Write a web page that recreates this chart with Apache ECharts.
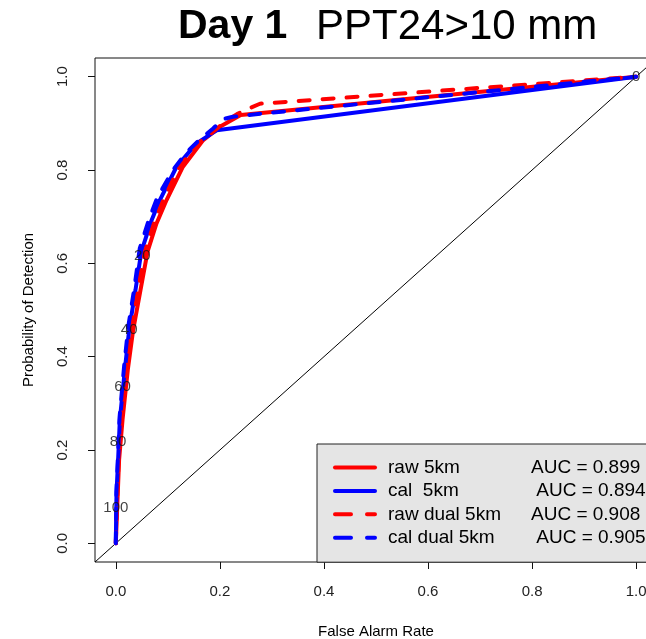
<!DOCTYPE html>
<html>
<head>
<meta charset="utf-8">
<title>Day 1 PPT24>10 mm</title>
<script src="https://cdn.jsdelivr.net/npm/echarts@6/dist/echarts.min.js"></script>
<style>
    html, body { margin: 0; padding: 0; background: #fff; }
    #chart { width: 646px; height: 639px; }
</style>
</head>
<body>
<div id="chart"></div>
<script>
    // 曲线数据 [误报率, 命中率]
    var raw5km = [[0, 0], [0.0025, 0.072], [0.0063, 0.179], [0.0129, 0.2645], [0.023, 0.3715], [0.0333, 0.457],
        [0.0475, 0.543], [0.061, 0.625], [0.078, 0.685], [0.0975, 0.7356], [0.129, 0.807], [0.168, 0.864],
        [0.2, 0.8925], [0.24, 0.918], [1, 1]];
    var cal5km = [[0, 0], [0.0013, 0.1075], [0.0044, 0.179], [0.0077, 0.2645], [0.0173, 0.3715], [0.0256, 0.457],
        [0.0378, 0.543], [0.049, 0.625], [0.068, 0.69], [0.0846, 0.7356], [0.1167, 0.807], [0.155, 0.857],
        [0.187, 0.880], [0.194, 0.885], [1, 1]];
    var rawDual5km = [[0, 0], [0.002, 0.08], [0.0055, 0.18], [0.011, 0.268], [0.02, 0.372], [0.03, 0.457],
        [0.043, 0.545], [0.056, 0.625], [0.074, 0.688], [0.092, 0.737], [0.122, 0.807], [0.1615, 0.860],
        [0.187, 0.882], [0.212, 0.905], [0.235, 0.921], [0.258, 0.933], [0.277, 0.942], [1, 1]];
    var calDual5km = [[0, 0], [0.0012, 0.11], [0.004, 0.185], [0.0072, 0.27], [0.016, 0.38], [0.024, 0.465],
        [0.036, 0.55], [0.046, 0.632], [0.064, 0.695], [0.08, 0.742], [0.11, 0.80], [0.136, 0.838],
        [0.162, 0.866], [0.187, 0.889], [0.206, 0.909], [0.225, 0.914], [0.251, 0.9175], [1, 1]];

    // 阈值标注
    var thresholdPts = [[1, 1], [0.051, 0.616], [0.0256, 0.457], [0.0129, 0.3345], [0.0044, 0.218], [0, 0.0754]];
    var thresholdLabels = ['0', '20', '40', '60', '80', '100'];

    // 对角线
    var diagonal = [[-0.04, -0.04], [1.04, 1.04]];

    var seriesNames = ['raw 5km', 'cal  5km', 'raw dual 5km', 'cal dual 5km'];
    var aucLabels = ['AUC = 0.899', ' AUC = 0.894', 'AUC = 0.908', ' AUC = 0.905'];
    var tickValues = [0, 0.2, 0.4, 0.6, 0.8, 1.0];

    var font = 'Liberation Sans, Arial, Helvetica, sans-serif';
    var chart = echarts.init(document.getElementById('chart'));

    function rocSeries(name, data, color, dashed) {
        return {
            name: name,
            type: 'line',
            data: data,
            symbol: 'none',
            z: 3,
            lineStyle: {
                color: color,
                width: 4,
                cap: 'round',
                type: dashed ? [11, 13] : 'solid'
            },
            itemStyle: { color: color },
            emphasis: { disabled: true }
        };
    }

    function legendItem(name, dashed) {
        return {
            name: name,
            itemStyle: { color: 'rgba(0,0,0,0)', borderWidth: 0 },
            lineStyle: { type: dashed ? [16, 16] : 'solid', width: 4, cap: 'round' }
        };
    }

    var option = {
        animation: false,
        backgroundColor: '#fff',
        title: [{
            text: 'Day 1',
            left: 178,
            top: 6,
            padding: 0,
            textStyle: { fontFamily: font, fontSize: 41, fontWeight: 'bold', color: '#000' }
        }, {
            text: 'PPT24>10 mm',
            left: 316,
            top: 6,
            padding: 0,
            textStyle: { fontFamily: font, fontSize: 42, fontWeight: 'normal', color: '#000' }
        }],
        grid: {
            left: 95,
            width: 562,
            top: 58,
            bottom: 77,
            outerBoundsMode: 'none',
            containLabel: false,
            show: true,
            borderColor: '#111',
            borderWidth: 1,
            backgroundColor: 'transparent'
        },
        legend: {
            orient: 'vertical',
            left: 317,
            top: 444,
            padding: [14, 17, 15, 16],
            itemWidth: 40,
            itemHeight: 19,
            itemGap: 4.4,
            selectedMode: false,
            backgroundColor: '#e5e5e5',
            borderColor: '#222',
            borderWidth: 1,
            data: [
                legendItem(seriesNames[0], false),
                legendItem(seriesNames[1], false),
                legendItem(seriesNames[2], true),
                legendItem(seriesNames[3], true)
            ],
            formatter: function(name) {
                var i = seriesNames.indexOf(name);
                return '{n|' + name + '}{a|' + aucLabels[i] + '}';
            },
            textStyle: {
                fontFamily: font,
                fontSize: 19,
                color: '#000',
                rich: {
                    n: { fontFamily: font, fontSize: 19, width: 143, padding: [0, 0, 0, 8], color: '#000' },
                    a: { fontFamily: font, fontSize: 19, color: '#000' }
                }
            }
        },
        xAxis: {
            type: 'value',
            min: -0.04,
            max: 1.04,
            name: 'False Alarm Rate',
            nameLocation: 'middle',
            nameGap: 62,
            nameTextStyle: { fontFamily: font, fontSize: 15, color: '#000' },
            axisLine: { show: false, onZero: false },
            splitLine: { show: false },
            axisTick: {
                show: true,
                length: 7,
                customValues: tickValues,
                lineStyle: { color: '#111', width: 1 }
            },
            axisLabel: {
                customValues: tickValues,
                margin: 22,
                fontFamily: font,
                fontSize: 15,
                color: '#222',
                formatter: function(v) { return v.toFixed(1); }
            }
        },
        yAxis: {
            type: 'value',
            min: -0.04,
            max: 1.04,
            name: 'Probability of Detection',
            nameLocation: 'middle',
            nameGap: 59,
            nameTextStyle: { fontFamily: font, fontSize: 15, color: '#000' },
            axisLine: { show: false, onZero: false },
            splitLine: { show: false },
            axisTick: {
                show: true,
                length: 7,
                customValues: tickValues,
                lineStyle: { color: '#111', width: 1 }
            },
            axisLabel: {
                customValues: tickValues,
                rotate: 90,
                margin: 25,
                fontFamily: font,
                fontSize: 15,
                color: '#222',
                formatter: function(v) { return v.toFixed(1); }
            }
        },
        series: [{
            name: 'diagonal',
            type: 'line',
            data: diagonal,
            symbol: 'none',
            z: 2,
            lineStyle: { color: '#000', width: 1 },
            emphasis: { disabled: true }
        },
            rocSeries(seriesNames[0], raw5km, '#ff0000', false),
            rocSeries(seriesNames[1], cal5km, '#0000ff', false),
            rocSeries(seriesNames[2], rawDual5km, '#ff0000', true),
            rocSeries(seriesNames[3], calDual5km, '#0000ff', true),
        {
            name: 'threshold',
            type: 'scatter',
            z: 5,
            symbol: 'circle',
            symbolSize: 1,
            itemStyle: { color: 'rgba(0,0,0,0)' },
            silent: true,
            data: thresholdPts.map(function(p, i) {
                return { value: p, label: { formatter: thresholdLabels[i] } };
            }),
            label: {
                show: true,
                position: 'inside',
                fontFamily: font,
                fontSize: 15,
                color: '#111'
            }
        }]
    };

    chart.setOption(option);
</script>
</body>
</html>
